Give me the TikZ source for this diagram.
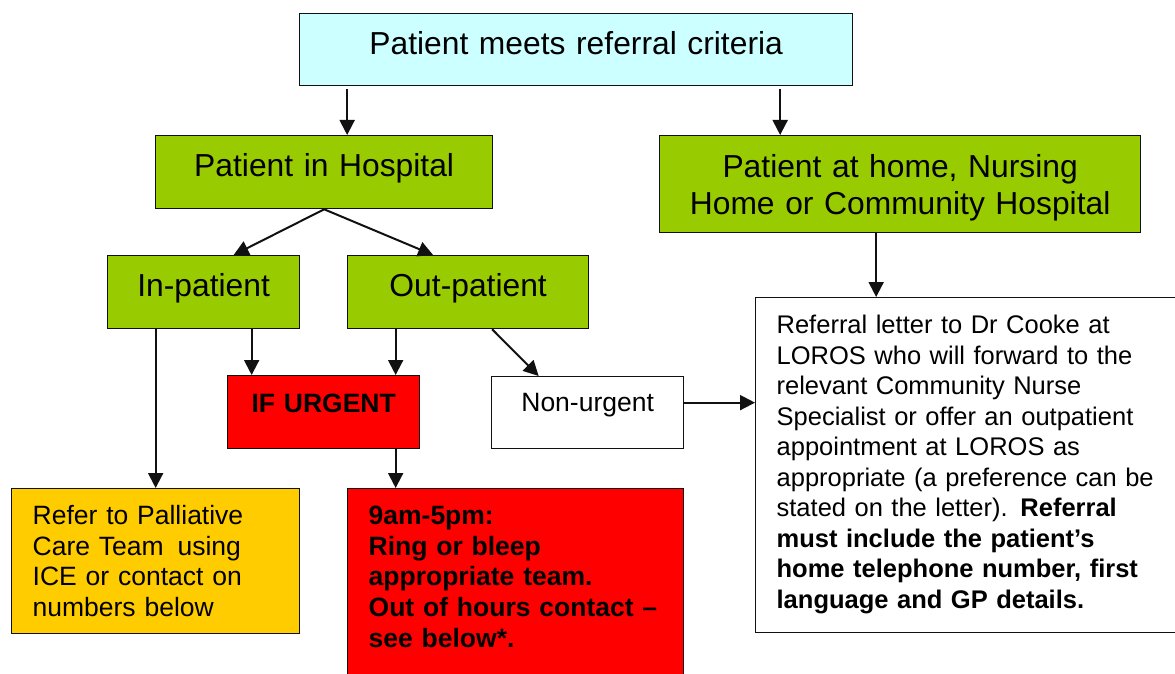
\documentclass[tikz,border=0pt]{standalone}
\usepackage{fontspec}
\setmainfont{Liberation Sans}
\usepackage{tikz}
\usetikzlibrary{arrows.meta, positioning, calc}
\definecolor{Ink}{HTML}{111111}
\definecolor{SoftCyan}{HTML}{CCFFFF}
\definecolor{WardGreen}{HTML}{99CC00}
\definecolor{AlertRed}{HTML}{FF0000}
\definecolor{TeamAmber}{HTML}{FFCC00}

\begin{document}
\begin{tikzpicture}[
  x=1pt, y=-1pt,
  font=\fontsize{31.8}{36.6}\selectfont,
  box/.style={draw=Ink, line width=1.3pt, inner sep=0pt, anchor=north west, align=center},
  crit/.style={box, fill=SoftCyan},
  ward/.style={box, fill=WardGreen},
  alert/.style={box, fill=AlertRed, font=\fontsize{26.5}{30.6}\selectfont\bfseries},
  team/.style={box, fill=TeamAmber, align=left, inner xsep=21pt, font=\fontsize{26.5}{30.6}\selectfont},
  letterbox/.style={box, fill=white, font=\fontsize{26.5}{30.6}\selectfont},
  arrow/.style={-{Triangle[length=15pt, width=15pt]}, line width=2pt, draw=Ink}
]
\useasboundingbox (0,0) rectangle (1175,674);

% top of the tree
\node[crit, text width=553pt, text height=41pt, text depth=31pt] (crit) at (299,13) {Patient meets referral criteria};
\node[ward, text width=337pt, text height=41pt, text depth=32pt] (hosp) at (155,135) {Patient in Hospital};
\node[ward, text width=481pt, text height=42pt, text depth=55pt] (home) at (659,135) {Patient at home, Nursing\\Home or Community Hospital};

% hospital branch
\node[ward, text width=192pt, text height=41pt, text depth=32pt] (inpat) at (107,255) {In-patient};
\node[ward, text width=241pt, text height=41pt, text depth=32pt] (outpat) at (347,255) {Out-patient};
\node[alert, text width=192pt, text height=37pt, text depth=36pt] (urgent) at (227,375) {IF URGENT};
\node[letterbox, text width=192pt, text height=35pt, text depth=37pt] (nonurg) at (491,376) {Non-urgent};

% outcomes
\node[team, text width=246pt, text height=36pt, text depth=109pt] (palli) at (11,488) {Refer to Palliative\\Care Team\hspace{5pt} using\\ICE or contact on\\numbers below};
\node[alert, align=left, inner xsep=21pt, text width=294pt, text height=36pt, text depth=190pt] (hours) at (347,488) {9am-5pm:\\Ring or bleep\\appropriate team.\\Out of hours contact --\\see below*.};
\node[letterbox, align=left, inner xsep=21pt, text width=393pt, text height=36pt, text depth=299pt, font=\fontsize{25.5}{30.5}\selectfont] (letter) at (755,297) {Referral letter to Dr Cooke at\\LOROS who will forward to the\\relevant Community Nurse\\Specialist or offer an outpatient\\appointment at LOROS as\\appropriate (a preference can be\\stated on the letter). \textbf{Referral}\\\textbf{must include the patient’s}\\\textbf{home telephone number, first}\\\textbf{language and GP details.}};

\draw[arrow, shorten <=3pt] ([xshift=23pt]hosp.north |- crit.south) -- ([xshift=23pt]hosp.north);
\draw[arrow, shorten <=3pt] ([xshift=-120pt]home.north |- crit.south) -- ([xshift=-120pt]home.north);
\draw[arrow] (hosp.south) -- ([xshift=30pt]inpat.north);
\draw[arrow] (hosp.south) -- ([xshift=-35pt]outpat.north);
\draw[arrow] (palli.north |- inpat.south) -- (palli.north);
\draw[arrow] ([xshift=-72pt]urgent.north |- inpat.south) -- ([xshift=-72pt]urgent.north);
\draw[arrow] ([xshift=72pt]urgent.north |- outpat.south) -- ([xshift=72pt]urgent.north);
\draw[arrow] ([xshift=24pt]outpat.south) -- ([xshift=-49pt]nonurg.north);
\draw[arrow] ([xshift=72pt]urgent.south) -- ([xshift=72pt]urgent.south |- hours.north);
\draw[arrow] ([xshift=-24pt]home.south) -- ([xshift=-24pt]home.south |- letter.north);
\draw[arrow] ([yshift=10pt]nonurg.east) -- ([yshift=10pt]nonurg.east -| letter.west);
\end{tikzpicture}
\end{document}
